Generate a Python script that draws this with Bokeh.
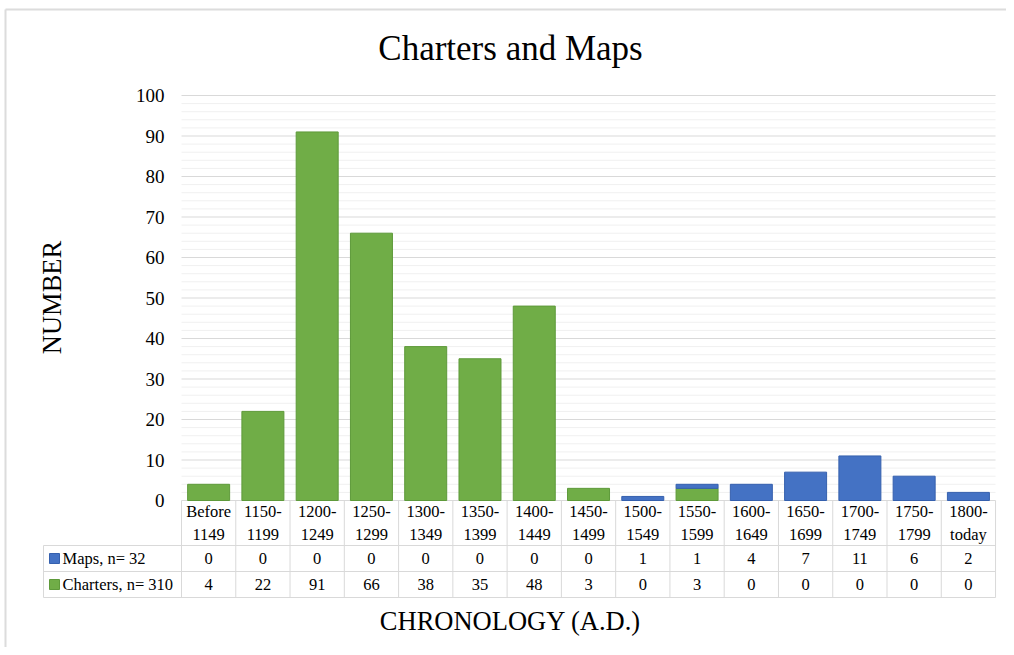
import math
from bokeh.plotting import figure
from bokeh.models import Range1d
from bokeh.core.properties import value
from bokeh.embed import file_html
from bokeh.resources import INLINE

# ---- data ----
categories = ["Before\n1149", "1150-\n1199", "1200-\n1249", "1250-\n1299", "1300-\n1349",
              "1350-\n1399", "1400-\n1449", "1450-\n1499", "1500-\n1549", "1550-\n1599",
              "1600-\n1649", "1650-\n1699", "1700-\n1749", "1750-\n1799", "1800-\ntoday"]
maps = [0, 0, 0, 0, 0, 0, 0, 0, 1, 1, 4, 7, 11, 6, 2]
charters = [4, 22, 91, 66, 38, 35, 48, 3, 0, 3, 0, 0, 0, 0, 0]
series_names = ["Maps, n= 32", "Charters, n= 310"]
y_ticks = [0, 10, 20, 30, 40, 50, 60, 70, 80, 90, 100]
minor_ticks = list(range(0, 101, 2))
title = "Charters and Maps"
x_title = "CHRONOLOGY (A.D.)"
y_title = "NUMBER"

GREEN = "#70AD47"
GREEN_LINE = "#5E9A3A"
BLUE = "#4472C4"
BLUE_LINE = "#3560AE"
GRID = "#D9D9D9"
MINOR = "#F0F0F0"
FONT = "Liberation Serif"

n = len(categories)
W, H = 1006, 647
UX = 54.27   # px per category
UY = 4.05    # px per unit
x0_px, y0_px = 181, 500   # plot origin inside figure

p = figure(width=W, height=H, output_backend="svg", toolbar_location=None,
           x_range=Range1d(-x0_px / UX, (W - x0_px) / UX),
           y_range=Range1d(-(H - y0_px) / UY, y0_px / UY),
           x_axis_type=None, y_axis_type=None, min_border=0,
           outline_line_color=None)
p.grid.visible = False
p.background_fill_color = "white"
p.border_fill_color = "white"

# outer chart border (top & left)
xs_left = -(x0_px - 5) / UX
ytop = (y0_px - 9) / UY
p.segment(x0=[xs_left, xs_left], y0=[ytop, ytop], x1=[(W - x0_px) / UX, xs_left],
          y1=[ytop, -(H - y0_px) / UY], line_color="#DCDCDC", line_width=2)

# gridlines
minor_only = [t for t in minor_ticks if t not in y_ticks]
p.segment(x0=[0] * len(minor_only), x1=[n] * len(minor_only), y0=minor_only, y1=minor_only,
          line_color=MINOR, line_width=1)
p.segment(x0=[0] * len(y_ticks), x1=[n] * len(y_ticks), y0=y_ticks, y1=y_ticks,
          line_color=GRID, line_width=1)

# y tick labels
p.text(x=[-17 / UX] * len(y_ticks), y=y_ticks, text=[str(t) for t in y_ticks],
       text_font=value(FONT), text_font_size="19px", text_align="right",
       text_baseline="middle", text_color="#000000")

# bars (stacked: charters bottom, maps top)
xc = [i + 0.5 for i in range(n)]
bw = 42 / UX
c_idx = [i for i in range(n) if charters[i] > 0]
m_idx = [i for i in range(n) if maps[i] > 0]
p.vbar(x=[xc[i] for i in c_idx], width=bw, bottom=0, top=[charters[i] for i in c_idx],
       fill_color=GREEN, line_color=GREEN_LINE, line_width=1)
p.vbar(x=[xc[i] for i in m_idx], width=bw, bottom=[charters[i] for i in m_idx],
       top=[charters[i] + maps[i] for i in m_idx],
       fill_color=BLUE, line_color=BLUE_LINE, line_width=1)

# data table
r1 = -(545 - 500) / UY
r2 = -(571 - 500) / UY
r3 = -(597 - 500) / UY
left = -(181 - 43) / UX
p.segment(x0=[left, left, left], x1=[n, n, n], y0=[r1, r2, r3], y1=[r1, r2, r3],
          line_color=GRID, line_width=1)
p.segment(x0=list(range(n + 1)), x1=list(range(n + 1)), y0=[0] * (n + 1), y1=[r3] * (n + 1),
          line_color=GRID, line_width=1)
p.segment(x0=[left], x1=[left], y0=[r1], y1=[r3], line_color=GRID, line_width=1)

# header labels
p.text(x=xc, y=[(0 + r1) / 2] * n, text=categories, text_font=value(FONT),
       text_font_size="16.5px", text_align="center", text_baseline="middle",
       text_color="#000000", text_line_height=1.2)
# values
p.text(x=xc, y=[(r1 + r2) / 2] * n, text=[str(v) for v in maps], text_font=value(FONT),
       text_font_size="16.5px", text_align="center", text_baseline="middle", text_color="#000000")
p.text(x=xc, y=[(r2 + r3) / 2] * n, text=[str(v) for v in charters], text_font=value(FONT),
       text_font_size="16.5px", text_align="center", text_baseline="middle", text_color="#000000")
# legend keys
p.scatter(x=[left + 11 / UX] * 2, y=[(r1 + r2) / 2, (r2 + r3) / 2], marker="square", size=10,
          fill_color=[BLUE, GREEN], line_color=[BLUE_LINE, GREEN_LINE])
p.text(x=[left + 19 / UX] * 2, y=[(r1 + r2) / 2, (r2 + r3) / 2], text=series_names,
       text_font=value(FONT), text_font_size="16.5px", text_align="left",
       text_baseline="middle", text_color="#000000")

# titles
p.text(x=[(510 - 181) / UX], y=[(500 - 48) / UY], text=[title], text_font=value(FONT),
       text_font_size="35px", text_align="center", text_baseline="middle", text_color="#000000")
p.text(x=[(510 - 181) / UX], y=[-(620 - 500) / UY], text=[x_title], text_font=value(FONT),
       text_font_size="26.5px", text_align="center", text_baseline="middle", text_color="#000000")
p.text(x=[(51 - 181) / UX], y=[(500 - 297) / UY], text=[y_title], text_font=value(FONT),
       text_font_size="26.5px", text_align="center", text_baseline="middle",
       angle=math.pi / 2, text_color="#000000")

open("out.html", "w").write(file_html(p, INLINE))
